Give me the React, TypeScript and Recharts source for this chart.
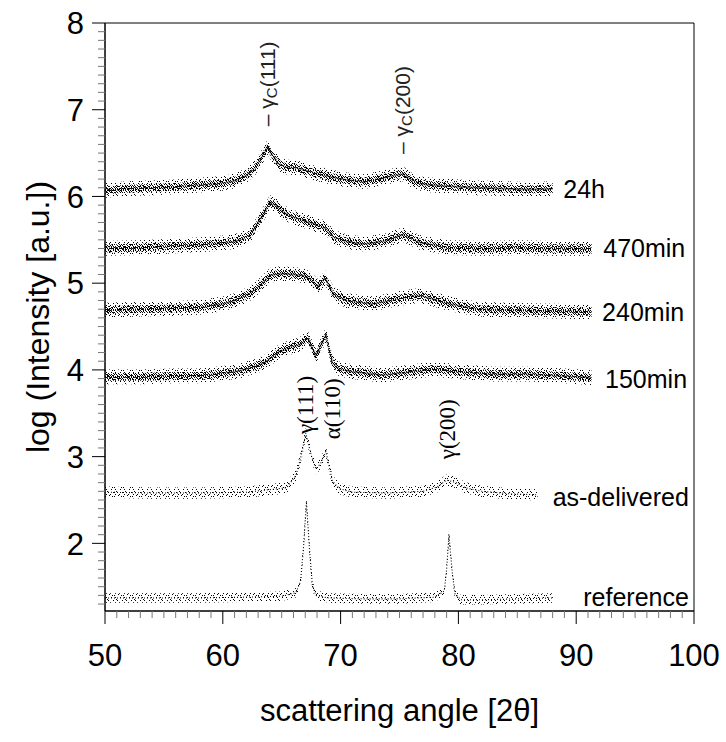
import React from "react";
import { ComposedChart, Area, Line, Scatter, XAxis, YAxis, ReferenceArea, Label } from "recharts";

const SANS = "'Liberation Sans', Arial, sans-serif";
const SERIF = "'Liberation Serif', 'Times New Roman', serif";

// centre line of each diffraction pattern: 2θ (deg) -> log intensity
const ANGLE_24H = [50, 52, 54, 56, 58, 60, 61, 62, 62.8, 63.4, 63.8, 64.2, 64.7, 65.3, 66.3, 67.5, 69, 70.5, 72, 73.5, 74.5, 75.3, 76, 77, 79, 81.5, 84, 86, 88];
const LOG_24H = [6.07, 6.09, 6.1, 6.11, 6.13, 6.15, 6.18, 6.24, 6.34, 6.47, 6.57, 6.48, 6.38, 6.34, 6.33, 6.28, 6.23, 6.19, 6.17, 6.21, 6.24, 6.26, 6.19, 6.14, 6.12, 6.1, 6.09, 6.08, 6.09];

const ANGLE_470 = [50, 53, 56, 59, 61, 62.3, 63.2, 64, 64.6, 65.1, 66, 67.1, 68.2, 68.8, 69.4, 70.5, 72, 73.9, 75.3, 76.7, 79, 82, 85, 88, 91.3];
const LOG_470 = [5.4, 5.41, 5.43, 5.45, 5.48, 5.55, 5.74, 5.93, 5.89, 5.82, 5.76, 5.71, 5.66, 5.63, 5.53, 5.48, 5.45, 5.49, 5.56, 5.47, 5.41, 5.4, 5.41, 5.4, 5.4];

const ANGLE_240 = [50, 53, 56, 58, 60, 61, 62.3, 63.2, 64, 64.9, 66, 66.8, 67.4, 68.1, 68.7, 69.4, 70.5, 72.8, 74.8, 76.7, 78, 79.3, 81.6, 84, 87, 91.3];
const LOG_240 = [4.69, 4.7, 4.71, 4.72, 4.76, 4.8, 4.88, 4.98, 5.09, 5.11, 5.1, 5.09, 5.05, 4.96, 5.06, 4.87, 4.8, 4.76, 4.82, 4.86, 4.81, 4.76, 4.7, 4.69, 4.68, 4.67];

const ANGLE_150 = [50, 53, 56, 58, 60, 61.5, 62.2, 63, 63.7, 64.8, 65.7, 66.5, 67.2, 67.9, 68.75, 69.3, 69.9, 71, 73.5, 75.5, 77.8, 80, 83, 86, 89, 91.3];
const LOG_150 = [3.92, 3.92, 3.93, 3.93, 3.96, 3.99, 4.02, 4.05, 4.1, 4.21, 4.26, 4.29, 4.37, 4.16, 4.4, 4.08, 4.01, 3.98, 3.94, 3.97, 4.01, 3.98, 3.95, 3.95, 3.93, 3.91];

const ANGLE_DELIV = [50, 54, 58, 62, 64, 65.4, 66.2, 66.6, 67.05, 67.5, 67.9, 68.3, 68.75, 69.3, 69.9, 71, 74, 77, 78.2, 79, 79.8, 80.6, 82, 84.5, 86.7];
const LOG_DELIV = [2.59, 2.58, 2.58, 2.59, 2.62, 2.64, 2.78, 2.98, 3.27, 3.02, 2.86, 2.92, 3.06, 2.72, 2.63, 2.59, 2.58, 2.6, 2.65, 2.73, 2.7, 2.64, 2.6, 2.57, 2.56];

const ANGLE_REF = [50, 54, 58, 62, 65, 66.2, 66.6, 66.85, 67.1, 67.35, 67.6, 67.9, 69, 72, 75, 78, 78.8, 79, 79.2, 79.45, 79.7, 80.2, 82, 85, 88];
const LOG_REF = [1.37, 1.37, 1.37, 1.38, 1.39, 1.43, 1.56, 1.95, 2.48, 1.95, 1.52, 1.4, 1.37, 1.36, 1.36, 1.38, 1.45, 1.7, 2.1, 1.7, 1.42, 1.35, 1.35, 1.36, 1.37];

const SAMPLE_NAMES = ["24h", "470min", "240min", "150min", "as-delivered", "reference"];

const X_MAJOR = [50, 60, 70, 80, 90, 100];
const Y_MAJOR = [2, 3, 4, 5, 6, 7, 8];

// minor ticks every 1° on x and 0.1 on y
const X_TICKS = Array.from({ length: 51 }, (_, i) => 50 + i);
const Y_TICKS = Array.from({ length: 68 }, (_, i) => Math.round((1.3 + i * 0.1) * 10) / 10);

// noise scatter is drawn as two stippled bands round the centre line
const PATTERNS = [
  { id: "24h", angle: ANGLE_24H, log: LOG_24H, outer: 0.085, inner: 0.045, thin: false },
  { id: "470", angle: ANGLE_470, log: LOG_470, outer: 0.085, inner: 0.045, thin: false },
  { id: "240", angle: ANGLE_240, log: LOG_240, outer: 0.085, inner: 0.045, thin: false },
  { id: "150", angle: ANGLE_150, log: LOG_150, outer: 0.085, inner: 0.045, thin: false },
  { id: "deliv", angle: ANGLE_DELIV, log: LOG_DELIV, outer: 0.065, inner: 0.03, thin: true },
  { id: "ref", angle: ANGLE_REF, log: LOG_REF, outer: 0.055, inner: 0.025, thin: true },
];

const toRows = (angle: number[], log: number[], outer: number, inner: number) =>
  angle.map((x, i) => ({
    x,
    v: log[i],
    outer: [log[i] - outer, log[i] + outer],
    inner: [log[i] - inner, log[i] + inner],
  }));

// label anchors (data units)
const NAME_LABELS = [
  { x: 88.9, y: 6.09, text: SAMPLE_NAMES[0] },
  { x: 92.3, y: 5.41, text: SAMPLE_NAMES[1] },
  { x: 92.2, y: 4.67, text: SAMPLE_NAMES[2] },
  { x: 92.45, y: 3.89, text: SAMPLE_NAMES[3] },
  { x: 88.0, y: 2.53, text: SAMPLE_NAMES[4] },
  { x: 90.6, y: 1.38, text: SAMPLE_NAMES[5] },
];

const PEAK_LABELS = [
  { x: 63.75, y: 6.81, text: "γ", sub: "C", tail: "(111)", serif: false },
  { x: 75.2, y: 6.49, text: "γ", sub: "C", tail: "(200)", serif: false },
  { x: 66.98, y: 3.26, text: "γ", sub: "", tail: "(111)", serif: true },
  { x: 69.3, y: 3.2, text: "α", sub: "", tail: "(110)", serif: true },
  { x: 79.1, y: 2.97, text: "γ", sub: "", tail: "(200)", serif: true },
];

const DENSE_DOTS = [
  [0, 0], [3, 0], [5, 0], [8, 0],
  [1, 1], [6, 1], [9, 1],
  [0, 2], [2, 2], [4, 2], [7, 2],
  [3, 3], [5, 3], [8, 3],
  [1, 4], [4, 4], [6, 4], [9, 4],
  [0, 5], [2, 5], [7, 5],
  [3, 6], [5, 6], [8, 6], [9, 6],
  [1, 7], [4, 7], [6, 7],
  [0, 8], [2, 8], [7, 8], [9, 8],
  [3, 9], [5, 9], [8, 9],
];
const SPARSE_DOTS = [[1, 0], [6, 1], [4, 1], [7, 3], [3, 3], [8, 5], [0, 6], [5, 6], [2, 8], [7, 8]];

function XTick({ x, y, payload }: any) {
  const major = X_MAJOR.includes(payload.value);
  return (
    <g>
      <line x1={x} x2={x} y1={y} y2={y + (major ? 13 : 7)} stroke={major ? "#000" : "#777"} />
      {major && (
        <text x={x} y={y + 55} textAnchor="middle" fontSize={31} fontFamily={SANS} fill="#000">
          {payload.value}
        </text>
      )}
    </g>
  );
}

function YTick({ x, y, payload }: any) {
  const major = Y_MAJOR.includes(payload.value);
  return (
    <g>
      <line x1={x} x2={x - (major ? 13 : 7)} y1={y} y2={y} stroke={major ? "#000" : "#777"} />
      {major && (
        <text x={x - 21} y={y} dy="0.36em" textAnchor="end" fontSize={31} fontFamily={SANS} fill="#000">
          {payload.value}
        </text>
      )}
    </g>
  );
}

function NameShape({ cx, cy, payload }: any) {
  return (
    <text x={cx} y={cy} dy="0.36em" fontSize={25} fontFamily={SANS} fill="#000">
      {payload.text}
    </text>
  );
}

function PeakShape({ cx, cy, payload }: any) {
  if (payload.serif) {
    return (
      <text x={cx} y={cy} transform={`rotate(-90 ${cx} ${cy})`} dominantBaseline="central" fontSize={23} fontFamily={SERIF} fill="#000">
        {payload.text}
        {payload.tail}
      </text>
    );
  }
  return (
    <text x={cx} y={cy} transform={`rotate(-90 ${cx} ${cy})`} dominantBaseline="central" fontSize={21} fontFamily={SANS} fill="#222">
      {"– " + payload.text}
      <tspan fontSize={15} dy={4}>{payload.sub}</tspan>
      <tspan dy={-4}>{payload.tail}</tspan>
    </text>
  );
}

export default function App() {
  return (
    <div style={{ position: "absolute", left: 0, top: 0, background: "#fff" }}>
      <ComposedChart width={726} height={742} margin={{ top: 23, right: 32, bottom: 0, left: 0 }}>
        <defs>
          <pattern id="dense" width="10" height="10" patternUnits="userSpaceOnUse">
            {DENSE_DOTS.map(([dx, dy], i) => (
              <rect key={i} x={dx} y={dy} width={1} height={1} fill="#000" />
            ))}
          </pattern>
          <pattern id="sparse" width="9" height="9" patternUnits="userSpaceOnUse">
            {SPARSE_DOTS.map(([dx, dy], i) => (
              <rect key={i} x={dx} y={dy} width={1} height={1} fill="#000" />
            ))}
          </pattern>
        </defs>
        <XAxis
          type="number"
          dataKey="x"
          domain={[50, 100]}
          ticks={X_TICKS}
          interval={0}
          allowDataOverflow
          height={131}
          tickSize={0}
          tickMargin={0}
          tickLine={false}
          tick={<XTick />}
          axisLine={{ stroke: "#000" }}
        >
          <Label value="scattering angle [2θ]" position="insideBottom" offset={21} fontSize={31} fontFamily={SANS} fill="#000" />
        </XAxis>
        <YAxis
          type="number"
          domain={[1.22, 8]}
          ticks={Y_TICKS}
          interval={0}
          allowDataOverflow
          width={105}
          tickSize={0}
          tickMargin={0}
          tickLine={false}
          tick={<YTick />}
          axisLine={{ stroke: "#000" }}
        >
          <Label
            value="log (Intensity [a.u.])"
            angle={-90}
            position="insideLeft"
            offset={38}
            fontSize={32}
            fontFamily={SANS}
            fill="#000"
            style={{ textAnchor: "middle" }}
          />
        </YAxis>
        <ReferenceArea x1={50} x2={100} y1={1.22} y2={8} fill="none" stroke="#000" strokeWidth={1} />
        {PATTERNS.map((p) => {
          const rows = toRows(p.angle, p.log, p.outer, p.inner);
          return (
            <React.Fragment key={p.id}>
              <Area data={rows} dataKey="outer" type="linear" stroke="none" fill="url(#sparse)" fillOpacity={1} isAnimationActive={false} />
              <Area data={rows} dataKey="inner" type="linear" stroke="none" fill={p.thin ? "url(#sparse)" : "url(#dense)"} fillOpacity={1} isAnimationActive={false} />
              <Line
                data={rows}
                dataKey="v"
                type="linear"
                stroke="#000"
                strokeWidth={p.thin ? 1.1 : 1.8}
                strokeDasharray={p.thin ? "1 2" : "1 1"}
                dot={false}
                isAnimationActive={false}
              />
            </React.Fragment>
          );
        })}
        <Scatter data={NAME_LABELS} dataKey="y" shape={<NameShape />} isAnimationActive={false} />
        <Scatter data={PEAK_LABELS} dataKey="y" shape={<PeakShape />} isAnimationActive={false} />
      </ComposedChart>
    </div>
  );
}
